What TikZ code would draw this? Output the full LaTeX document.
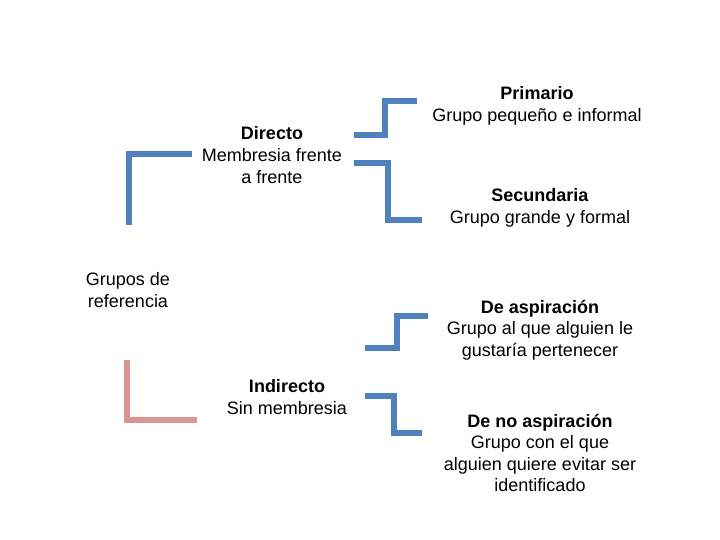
\documentclass[tikz,border=0pt]{standalone}
\usepackage{fontspec}
\setmainfont{Liberation Sans}
\usepackage{xcolor}
\usepackage{tikz}
\usetikzlibrary{positioning}

\definecolor{barblue}{RGB}{79,129,189}
\definecolor{barpink}{RGB}{217,150,148}

\begin{document}
\begin{tikzpicture}[x=1pt, y=-1pt,
    txt/.style={align=center, inner sep=0pt, font=\fontsize{18}{21.6}\selectfont},
    bar/.style={line width=6.5pt, color=barblue}]
    \useasboundingbox (0,0) rectangle (720,540);

    \node[txt] (root) at (128,290) {Grupos de\\referencia};
    \node[txt] (dir) at (272,155) {\textbf{Directo}\\Membresia frente\\a frente};
    \node[txt] (ind) at (287,397) {\textbf{Indirecto}\\Sin membresia};
    \node[txt] (prim) at (537,106) {\textbf{Primario}\\Grupo pequeño e informal};
    \node[txt] (sec) at (540,208) {\textbf{Secundaria}\\Grupo grande y formal};
    \node[txt] (asp) at (540,330) {\textbf{De aspiración}\\Grupo al que alguien le\\gustaría pertenecer};
    \node[txt] (noasp) at (540,453) {\textbf{De no aspiración}\\Grupo con el que\\alguien quiere evitar ser\\identificado};

    \coordinate (A) at (129,154);
    \coordinate (B) at (127,420);

    \draw[bar] (192,154) -- (A) -- (129,225);
    \draw[bar, color=barpink] (127,360) -- (B) -- (197,420);

    \draw[bar] (354,135) -| (385,101) -- (417,101);
    \draw[bar] (354,163) -| (388,220) -- (422,220);
    \draw[bar] (365,348) -| (397,316) -- (428,316);
    \draw[bar] (365,396) -| (394,433) -- (422,433);
\end{tikzpicture}
\end{document}
